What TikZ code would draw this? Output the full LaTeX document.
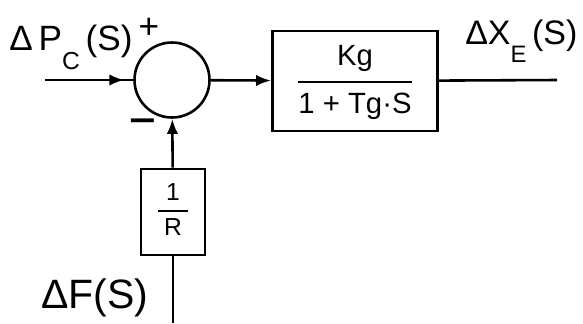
\documentclass[tikz,border=0pt]{standalone}
\usepackage{fontspec}
\usepackage{graphicx}
\setmainfont{Liberation Sans}
\usetikzlibrary{arrows.meta,decorations.markings}
\newcommand{\lowsub}[1]{\raisebox{-0.55em}{\scalebox{0.7}{#1}}}

\begin{document}
\begin{tikzpicture}[
    x=0.3mm,y=-0.3mm,line width=2.2pt,
    sumnode/.style={draw,circle,line width=2.2pt,minimum size=22.5mm,inner sep=0pt},
    blockbox/.style={draw,line width=2.4pt,inner sep=0pt},
    tip/.style={-{Latex[length=4.5mm,width=3.4mm]}},
    midtip/.style={postaction={decorate},decoration={markings,
        mark=at position #1 with {\arrow{Latex[length=4.5mm,width=3.4mm]}}}},
    signlbl/.style={font=\fontsize{30}{32}\selectfont}]
    \useasboundingbox (0,0) rectangle (583,323);
    % blocks
    \node[sumnode] (sum) at (172,80) {};
    \node[blockbox,minimum width=49.5mm,minimum height=30mm,
        font=\fontsize{25}{28}\selectfont] (gen) at (355,81)
        {\setlength{\arrayrulewidth}{1.8pt}\renewcommand{\arraystretch}{1.25}%
         \begin{tabular}{@{}c@{}}Kg\\[3pt]\hline\rule{0pt}{26pt}1 + Tg·S\end{tabular}};
    \node[blockbox,minimum width=19.2mm,minimum height=25.8mm,
        font=\fontsize{21}{24}\selectfont] (droop) at (173,212)
        {\setlength{\arrayrulewidth}{1.8pt}%
         \begin{tabular}{@{\hspace{5pt}}c@{\hspace{5pt}}}1\\[1pt]\hline\rule{0pt}{20pt}R\end{tabular}};
    \coordinate (in) at (45,80);
    \coordinate (out) at (557,80);
    \coordinate (fin) at (173,323);
    % signals
    \draw[midtip=0.9] (in) -- (sum);
    \draw[tip] (sum) -- (gen);
    \draw (gen) -- (out);
    \draw (fin) -- (droop);
    \draw[tip] (droop) -- (sum);
    % labels
    \node[anchor=base west,inner sep=0pt,font=\fontsize{30}{32}\selectfont] (pc) at (8,50)
        {Δ\,P\lowsub{C}\,(S)};
    \node[signlbl] (plus) at (149,28) {+};
    \node[signlbl] (minus) at (143,126) {\scalebox{1.3}[1]{\textbf{−}}};
    \node[anchor=base west,inner sep=0pt,font=\fontsize{29}{31}\selectfont] (xe) at (464,44)
        {ΔX\lowsub{E}\,(S)};
    \node[anchor=base west,inner sep=0pt,font=\fontsize{35}{38}\selectfont] (df) at (40,308)
        {ΔF(S)};
\end{tikzpicture}
\end{document}
